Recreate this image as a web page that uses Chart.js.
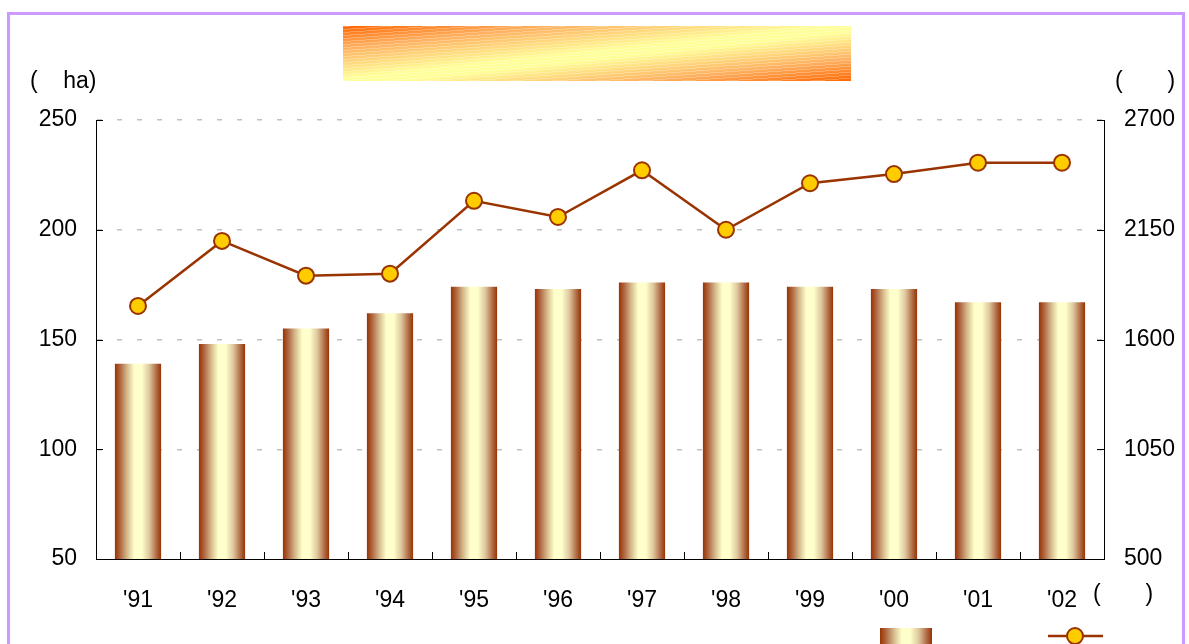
<!DOCTYPE html>
<html>
<head>
<meta charset="utf-8">
<script src="https://cdn.jsdelivr.net/npm/chart.js@4"></script>
<style>
  html, body { margin: 0; padding: 0; width: 1189px; height: 644px; overflow: hidden; background: #fff; }
  #frame { position: absolute; left: 7px; top: 12px; width: 1172px; height: 700px; border: 3px solid #CC99FF; }
  #titleBox {
    position: absolute; left: 343px; top: 26px; width: 508px; height: 55px;
    background:
      repeating-linear-gradient(176deg, rgba(255,255,255,0.25) 0 1px, rgba(255,255,255,0) 1px 3px),
      linear-gradient(to bottom right, #FF6600 0%, #FFB060 20%, #FFFF99 48%, #FFFF99 55%, #FFB060 80%, #FF6600 100%);
  }
  canvas { position: absolute; left: 0; top: 0; }
</style>
</head>
<body>
<div id="frame"></div>
<div id="titleBox"></div>
<canvas id="chart" width="1189" height="644"></canvas>
<script>
const years = ["'91", "'92", "'93", "'94", "'95", "'96", "'97", "'98", "'99", "'00", "'01", "'02"];
const areaHa = [139, 148, 155, 162, 174, 173, 176, 176, 174, 173, 167, 167];
const amount = [1768, 2094, 1920, 1930, 2295, 2214, 2448, 2150, 2383, 2429, 2486, 2486];
const leftTicks = [50, 100, 150, 200, 250];
const rightTicks = [500, 1050, 1600, 2150, 2700];

const FONT = "'Liberation Sans', Arial, sans-serif";
const BROWN = "#993300";
const barPct = 0.55;

function barGradient(chart, cx, w) {
  const g = chart.ctx.createLinearGradient(cx - w / 2, 0, cx + w / 2, 0);
  g.addColorStop(0, BROWN);
  g.addColorStop(0.12, "#B06A45");
  g.addColorStop(0.28, "#D9C193");
  g.addColorStop(0.42, "#FFFFCC");
  g.addColorStop(0.58, "#FFFFCC");
  g.addColorStop(0.75, "#DCC59A");
  g.addColorStop(0.9, "#B06A45");
  g.addColorStop(1, BROWN);
  return g;
}

// inward tick marks, axis text and the legend
const extras = {
  id: "extras",
  afterDraw(chart) {
    const { ctx, chartArea: a, scales } = chart;
    ctx.save();
    ctx.strokeStyle = "#000";
    ctx.lineWidth = 1;
    ctx.beginPath();
    leftTicks.forEach(v => {
      const y = Math.round(scales.y.getPixelForValue(v)) + 0.5;
      ctx.moveTo(a.left, y); ctx.lineTo(a.left + 7, y);
    });
    rightTicks.forEach(v => {
      const y = Math.round(scales.y1.getPixelForValue(v)) + 0.5;
      ctx.moveTo(a.right, y); ctx.lineTo(a.right - 7, y);
    });
    const cw = (a.right - a.left) / years.length;
    for (let i = 1; i < years.length; i++) {
      const x = Math.round(a.left + i * cw) + 0.5;
      ctx.moveTo(x, a.bottom); ctx.lineTo(x, a.bottom - 7);
    }
    ctx.stroke();

    ctx.fillStyle = "#000";
    ctx.font = "23px " + FONT;
    ctx.textBaseline = "middle";
    ctx.textAlign = "left";
    ctx.fillText("(    ha)", 30, 82);
    ctx.fillText("(       )", 1115, 82);
    ctx.fillText("(       )", 1093, 595);

    // legend
    const sx = 880, sw = 52;
    ctx.fillStyle = barGradient(chart, sx + sw / 2, sw);
    ctx.fillRect(sx, 628, sw, 16);
    ctx.strokeStyle = BROWN;
    ctx.lineWidth = 2.5;
    ctx.beginPath();
    ctx.moveTo(1048, 636); ctx.lineTo(1103, 636);
    ctx.stroke();
    ctx.beginPath();
    ctx.arc(1075, 636, 8, 0, Math.PI * 2);
    ctx.fillStyle = "#FFCC00";
    ctx.fill();
    ctx.lineWidth = 2;
    ctx.stroke();
    ctx.restore();
  }
};

new Chart(document.getElementById("chart"), {
  type: "bar",
  data: {
    labels: years,
    datasets: [
      {
        type: "line",
        data: amount,
        yAxisID: "y1",
        order: 0,
        borderColor: BROWN,
        borderWidth: 2.5,
        pointRadius: 8,
        pointBackgroundColor: "#FFCC00",
        pointBorderColor: BROWN,
        pointBorderWidth: 2,
        tension: 0
      },
      {
        data: areaHa,
        yAxisID: "y",
        order: 1,
        barPercentage: barPct,
        categoryPercentage: 1,
        backgroundColor: (c) => {
          const chart = c.chart;
          const sx = chart.scales.x;
          if (!chart.chartArea || !sx || c.type !== "data") return "#CC9966";
          const cx = sx.getPixelForValue(c.dataIndex);
          const w = (sx.width / years.length) * barPct;
          return barGradient(chart, cx, w);
        }
      }
    ]
  },
  options: {
    responsive: false,
    animation: false,
    layout: { padding: { top: 120, left: 0, right: 0, bottom: 0 } },
    plugins: { legend: { display: false }, tooltip: { enabled: false }, title: { display: false } },
    scales: {
      x: {
        grid: { display: false },
        border: { display: true, color: "#000", width: 1 },
        ticks: { color: "#000", font: { family: FONT, size: 23 }, padding: 20, maxRotation: 0 },
        afterFit: (s) => { s.height = 85; }
      },
      y: {
        position: "left",
        min: 50, max: 250,
        afterBuildTicks: (s) => { s.ticks = leftTicks.map(v => ({ value: v })); },
        grid: {
          color: (c) => c.tick && c.tick.value === 50 ? "rgba(0,0,0,0)" : "#C0C0C0",
          lineWidth: 1.5,
          drawTicks: false
        },
        border: { display: true, color: "#000", width: 1, dash: [5, 15] },
        ticks: { color: "#000", font: { family: FONT, size: 23 }, padding: 19, callback: (v) => String(v) },
        afterFit: (s) => { s.width = 96; }
      },
      y1: {
        position: "right",
        min: 500, max: 2700,
        afterBuildTicks: (s) => { s.ticks = rightTicks.map(v => ({ value: v })); },
        grid: { display: false },
        border: { display: true, color: "#000", width: 1 },
        ticks: { color: "#000", font: { family: FONT, size: 23 }, padding: 12, callback: (v) => String(v) },
        afterFit: (s) => { s.width = 85; }
      }
    }
  },
  plugins: [extras]
});
</script>
</body>
</html>
